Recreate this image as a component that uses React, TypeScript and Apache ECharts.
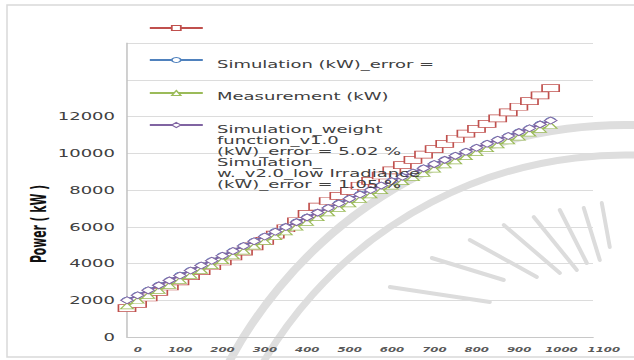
import React, { useEffect, useRef } from "react";
import * as echarts from "echarts";

// Whole chart is drawn in a narrower box and stretched horizontally (like the reference picture)
const NW = 352;
const S = 634 / NW;

const xValues = [0, 25, 50, 75, 100, 125, 150, 175, 200, 225, 250, 275, 300, 325, 350, 375, 400, 425, 450, 475, 500, 525, 550, 575, 600, 625, 650, 675, 700, 725, 750, 775, 800, 825, 850, 875, 900, 925, 950, 975, 1000];

const simV2Low = [1570, 1800, 2150, 2460, 2750, 3030, 3310, 3580, 3850, 4110, 4380, 4650, 4930, 5230, 5570, 5920, 6300, 6700, 7100, 7400, 7680, 7950, 8230, 8500, 8790, 9070, 9350, 9640, 9930, 10220, 10510, 10790, 11070, 11330, 11600, 11900, 12220, 12530, 12840, 13150, 13540];
const simulation = [2020, 2285, 2560, 2830, 3095, 3370, 3640, 3905, 4170, 4440, 4700, 4970, 5230, 5490, 5750, 6010, 6270, 6530, 6785, 7040, 7290, 7535, 7780, 8020, 8260, 8500, 8735, 8970, 9200, 9430, 9655, 9880, 10100, 10320, 10535, 10750, 10960, 11170, 11380, 11590, 11800];
const measurement = [1690, 2000, 2270, 2540, 2810, 3080, 3350, 3620, 3880, 4150, 4410, 4680, 4940, 5200, 5460, 5720, 5980, 6240, 6500, 6750, 7000, 7250, 7490, 7730, 7970, 8210, 8450, 8680, 8910, 9140, 9370, 9590, 9810, 10030, 10250, 10460, 10670, 10880, 11090, 11300, 11510];
const simWeightV1 = [2000, 2270, 2540, 2810, 3080, 3350, 3620, 3890, 4150, 4420, 4680, 4950, 5210, 5470, 5730, 5990, 6250, 6510, 6770, 7020, 7270, 7520, 7760, 8000, 8240, 8480, 8720, 8950, 9180, 9410, 9640, 9860, 10080, 10300, 10520, 10730, 10940, 11150, 11360, 11570, 11780];

const yTickMax = 12000; // labels above this are not shown
const nameRed = "Simulation_ w._v2.0_low Irradiance (kW)_error = 1.05 %";
const nameBlue = "Simulation (kW)_error =";
const nameGreen = "Measurement (kW)";
const namePurple = "Simulation_weight function_v1.0 (kW)_error = 5.02 %";
const purpleLegendText = "Simulation_weight\nfunction_v1.0\n(kW)_error = 5.02 %";
const redBlockText = "Simulation_\nw._v2.0_low Irradiance\n(kW)_error = 1.05 %";
const yTitle = "Power ( kW )";

const FONT = "'DejaVu Sans', sans-serif";
const TXT = "#404040";

const pairs = (ys: number[]) => xValues.map((x, i) => [x, ys[i]]);

const rays = [
  [432, 258, 504, 280],
  [390, 287, 490, 302],
  [470, 240, 537, 277],
  [504, 225, 560, 273],
  [534, 217, 577, 270],
  [560, 210, 587, 263],
  [584, 208, 600, 260],
  [602, 203, 610, 247],
];

export default function App() {
  const ref = useRef<HTMLDivElement>(null);
  useEffect(() => {
    document.body.style.margin = "0";
    const chart = echarts.init(ref.current!, null, { renderer: "svg", width: NW, height: 360 });
    const legendBase = {
      orient: "vertical" as const,
      padding: 0,
      left: 148 / S,
      itemWidth: 53 / S,
      itemHeight: 6.25,
      selectedMode: false,
      formatter: () => " ",
      itemStyle: { borderWidth: 1 },
      textStyle: { fontSize: 10, lineHeight: 11, fontFamily: FONT, color: TXT },
    };
    const mkSeries = (name: string, data: number[], color: string, symbol: string, size: number[], z: number) => ({
      name,
      type: "line",
      data: pairs(data),
      symbol,
      symbolSize: size,
      showSymbol: true,
      showAllSymbol: true,
      z,
      lineStyle: { color, width: 1.5 },
      itemStyle: { color: "#ffffff", borderColor: color, borderWidth: 0.8 },
    });
    const legText = (text: string, y: number, va: string) => ({
      type: "text",
      x: 217 / S,
      y,
      z: 10,
      style: { text, font: `10px ${FONT}`, lineHeight: 11, fill: TXT, align: "left", verticalAlign: va },
    });
    chart.setOption({
      animation: false,
      backgroundColor: "#ffffff",
      grid: { left: 127 / S, right: (634 - 593) / S, top: 43, bottom: 23, containLabel: false },
      xAxis: {
        type: "value",
        min: 0,
        max: 1100,
        interval: 100,
        axisLine: { show: true, lineStyle: { color: "#c8c8c8", width: 1 } },
        axisTick: { show: false },
        splitLine: { show: false },
        axisLabel: {
          fontSize: 6.5,
          fontWeight: "bold",
          fontStyle: "italic",
          fontFamily: FONT,
          color: "#595959",
          margin: 9,
          padding: [0, 0, 0, 12],
          formatter: (v: number) => String(v),
        },
      },
      yAxis: {
        type: "value",
        min: 0,
        max: 16000,
        interval: 2000,
        axisLine: { show: true, lineStyle: { color: "#bfbfbf", width: 0.8 } },
        axisTick: { show: false },
        splitLine: { show: true, lineStyle: { color: "#dcdcdc", width: 1 } },
        axisLabel: {
          fontSize: 10,
          fontFamily: FONT,
          color: TXT,
          margin: 12 / S,
          formatter: (v: number) => (v > yTickMax ? "" : String(v)),
        },
      },
      legend: [
        { ...legendBase, top: 28 - 5.5, data: [nameRed] },
        { ...legendBase, top: 60 - 5.5, data: [nameBlue] },
        { ...legendBase, top: 93 - 5.5, data: [nameGreen] },
        { ...legendBase, top: 125 - 5.5, data: [namePurple] },
      ],
      graphic: [
        {
          type: "group",
          x: 0,
          y: 0,
          scaleX: 1 / S,
          z: -10,
          silent: true,
          children: [
            {
              type: "rect",
              shape: { x: 7, y: 5, width: 640, height: 352 },
              style: { fill: "none", stroke: "#d9d9d9", lineWidth: 1.5 },
            },
            {
              type: "arc",
              shape: { cx: 625, cy: 574, r: 449, startAngle: -2.8, endAngle: -1.35, clockwise: true },
              style: { fill: "none", stroke: "#dedede", lineWidth: 8 },
            },
            {
              type: "arc",
              shape: { cx: 625, cy: 574, r: 419, startAngle: -2.75, endAngle: -1.35, clockwise: true },
              style: { fill: "none", stroke: "#dedede", lineWidth: 7 },
            },
            ...rays.map((r) => ({
              type: "line",
              shape: { x1: r[0], y1: r[1], x2: r[2], y2: r[3] },
              style: { stroke: "#dcdcdc", lineWidth: 4, lineCap: "round" },
            })),
          ],
        },
        legText(nameBlue, 64, "middle"),
        legText(nameGreen, 96, "middle"),
        legText(purpleLegendText, 123.5, "top"),
        legText(redBlockText, 156.5, "top"),
        {
          type: "text",
          x: 39 / S,
          y: 224,
          rotation: Math.PI / 2,
          z: 10,
          style: {
            text: yTitle,
            font: "bold 12px 'Liberation Sans Narrow', 'DejaVu Sans Condensed', sans-serif",
            fill: "#111111",
            align: "center",
            verticalAlign: "middle",
          },
        },
      ],
      series: [
        mkSeries(nameRed, simV2Low, "#c0504d", "rect", [9.5, 7], 2),
        mkSeries(nameGreen, measurement, "#9bbb59", "triangle", [7, 6], 3),
        mkSeries(nameBlue, simulation, "#4f81bd", "circle", [5.5, 5.5], 4),
        mkSeries(namePurple, simWeightV1, "#8064a2", "diamond", [7, 7], 5),
      ],
    });
    return () => chart.dispose();
  }, []);
  return (
    <div style={{ position: "fixed", left: 0, top: 0, width: 634, height: 360, overflow: "hidden", background: "#fff" }}>
      <div ref={ref} style={{ width: NW, height: 360, transform: `scaleX(${S})`, transformOrigin: "0 0" }} />
    </div>
  );
}
